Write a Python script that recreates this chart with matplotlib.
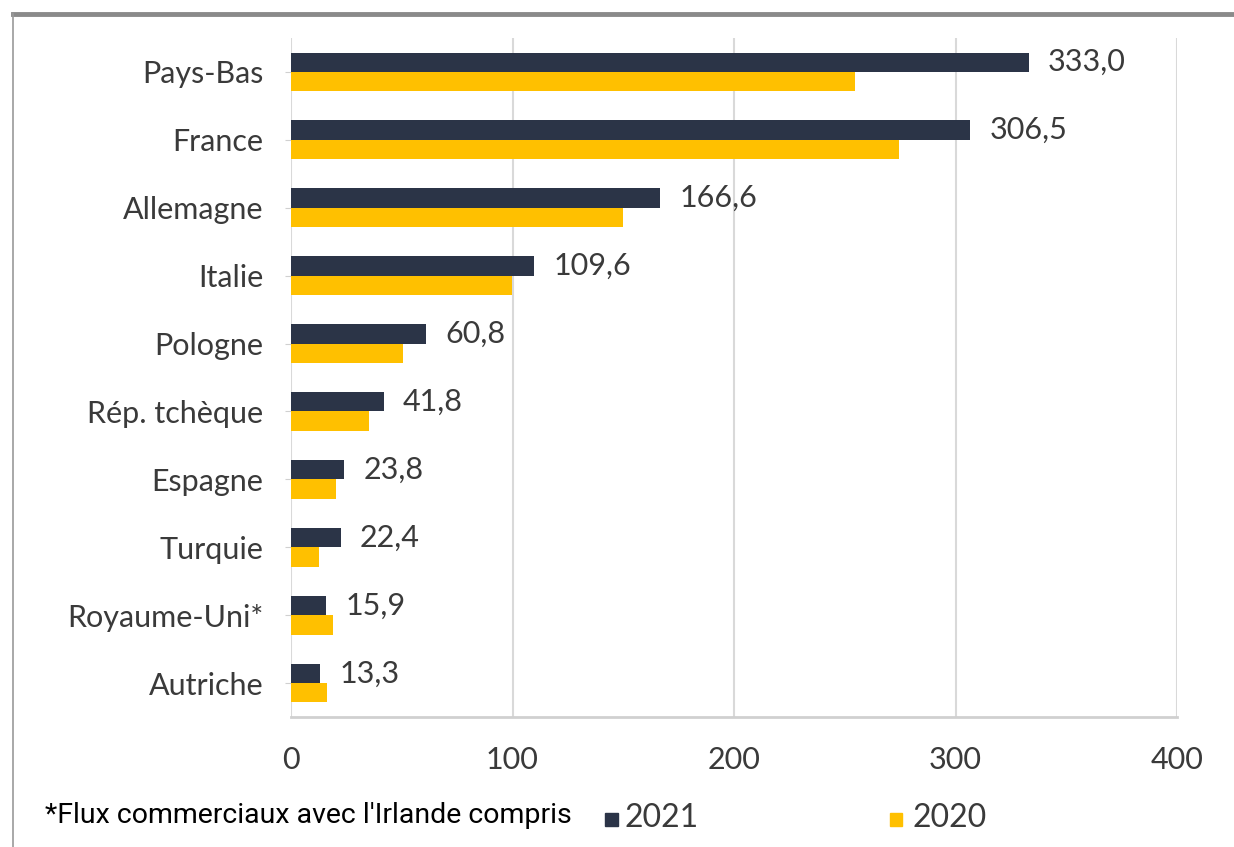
import matplotlib
matplotlib.use("Agg")
import matplotlib.pyplot as plt
from matplotlib.lines import Line2D
from matplotlib.patches import Rectangle

countries = ["Pays-Bas", "France", "Allemagne", "Italie", "Pologne",
             "Rép. tchèque", "Espagne", "Turquie", "Royaume-Uni*", "Autriche"]
values_2021 = [333.0, 306.5, 166.6, 109.6, 60.8, 41.8, 23.8, 22.4, 15.9, 13.3]
values_2020 = [254.6, 274.5, 149.9, 99.8, 50.6, 35.2, 20.3, 12.6, 19.0, 16.3]
x_ticks = [0, 100, 200, 300, 400]
series_names = ["2021", "2020"]
footnote = "*Flux commerciaux avec l'Irlande compris"

DARK = "#2b3447"
GOLD = "#ffc000"
TEXT = "#3a3a3a"
FS = 22

plt.rcParams["font.family"] = ["Lato", "DejaVu Sans"]

W, H = 1234, 847
fig = plt.figure(figsize=(W / 100, H / 100), dpi=100)
ax = fig.add_axes([291 / W, 1 - 717 / H, (1177 - 291) / W, (717 - 38) / H])

n = len(countries)
pos = list(range(n))
bh = 0.285
ax.barh([p - bh / 2 for p in pos], values_2021, height=bh, color=DARK, zorder=3)
ax.barh([p + bh / 2 for p in pos], values_2020, height=bh, color=GOLD, zorder=3)

for p, v in zip(pos, values_2021):
    ax.annotate(f"{v:.1f}".replace(".", ","), xy=(v, p - bh / 2), xytext=(14, 0),
                textcoords="offset points", va="center", ha="left",
                fontsize=FS, color=TEXT)

ax.set_xlim(0, 400)
ax.set_ylim(n - 0.5, -0.5)
ax.set_xticks(x_ticks)
ax.set_xticklabels([str(t) for t in x_ticks], fontsize=FS, color=TEXT)
ax.set_yticks(pos)
ax.set_yticklabels(countries, fontsize=FS, color=TEXT)
ax.tick_params(axis="x", length=0, pad=21)
ax.tick_params(axis="y", length=4, color="#d0d0d0", pad=16)
ax.grid(axis="x", color="#d9d9d9", linewidth=1.5, zorder=0)
for s in ["top", "right", "left"]:
    ax.spines[s].set_visible(False)
ax.spines["bottom"].set_color("#d0d0d0")
ax.spines["bottom"].set_linewidth(2)

# outer frame: heavy top rule and thin left rule
fig.add_artist(Line2D([13 / W, 1.0], [1 - 14 / H, 1 - 14 / H], color="#8a8a8a", linewidth=3.5))
fig.add_artist(Line2D([13 / W, 13 / W], [0, 1 - 14 / H], color="#9a9a9a", linewidth=1.2))

# footnote and legend
fig.text(45 / W, 1 - 815 / H, footnote, fontsize=20.5, family=["Roboto", "DejaVu Sans"],
         color="black", va="center", ha="left")
fig.add_artist(Rectangle((605 / W, 1 - 826 / H), 13 / W, 13 / H, color=DARK))
fig.text(625 / W, 1 - 818 / H, series_names[0], fontsize=23, color=TEXT, va="center")
fig.add_artist(Rectangle((890 / W, 1 - 826 / H), 12 / W, 13 / H, color=GOLD))
fig.text(912 / W, 1 - 818 / H, series_names[1], fontsize=23, color=TEXT, va="center")

fig.savefig("out.png", dpi=100)
